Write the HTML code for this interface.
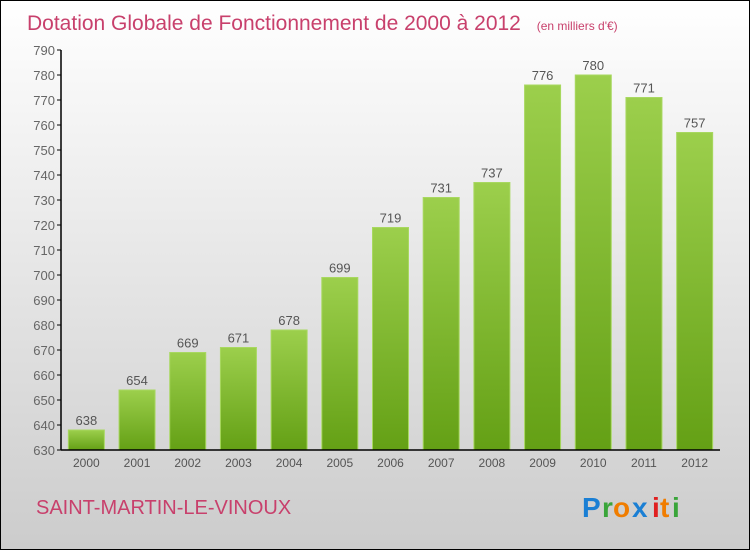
<!DOCTYPE html>
<html><head><meta charset="utf-8"><style>
html,body{margin:0;padding:0}
body{width:750px;height:550px;overflow:hidden;font-family:"Liberation Sans",sans-serif}
</style></head><body>
<svg id="chart" width="750" height="550" xmlns="http://www.w3.org/2000/svg">
<defs>
<linearGradient id="bg" x1="0" y1="0" x2="0" y2="1"><stop offset="0" stop-color="#ffffff"/><stop offset="1" stop-color="#cccccc"/></linearGradient>
<linearGradient id="bar" x1="0" y1="0" x2="0" y2="1"><stop offset="0" stop-color="#9ccf4c"/><stop offset="1" stop-color="#64a015"/></linearGradient>
</defs>
<rect x="0.5" y="0.5" width="749" height="549" fill="url(#bg)" stroke="#000"/>
<text x="27" y="30" font-size="21" fill="#c8406c">Dotation Globale de Fonctionnement de 2000 à 2012 <tspan font-size="12" dx="10">(en milliers d'€)</tspan></text>
<g id="plot"></g>
<text x="36" y="514" font-size="20" fill="#c8406c">SAINT-MARTIN-LE-VINOUX</text>
<g font-size="28" font-weight="bold" font-family="'Liberation Sans',sans-serif">
<text x="582" y="517" fill="#1a7fd4">P</text><text x="602" y="517" fill="#3aa53a">r</text><text x="613" y="517" fill="#f07d00">o</text><text x="632" y="517" fill="#1a7fd4">x</text><text x="652" y="517" fill="#e02020">i</text><text x="660" y="517" fill="#f07d00">t</text><text x="672" y="517" fill="#3aa53a">i</text>
</g>
</svg>
<script>
const years=["2000","2001","2002","2003","2004","2005","2006","2007","2008","2009","2010","2011","2012"];
const values=[638,654,669,671,678,699,719,731,737,776,780,771,757];
const yMin=630, yMax=790, yStep=10;
const ns="http://www.w3.org/2000/svg";
const g=document.getElementById('plot');
const x0=61,x1=720,yTop=50,yBot=450;
const y=v=>yBot-(v-yMin)/(yMax-yMin)*(yBot-yTop);
const step=(x1-x0)/years.length;
const xc=i=>x0+step*(i+0.5);
const bw=36;
function mk(t,a){const e=document.createElementNS(ns,t);for(const k in a)e.setAttribute(k,a[k]);g.appendChild(e);return e;}
for(let v=yMin;v<=yMax;v+=yStep){
 const t=mk('line',{x1:x0-4,x2:x0,y1:y(v),y2:y(v),stroke:'#000'});
 
 
 const l=mk('text',{x:x0-6,y:y(v)+5,'text-anchor':'end','font-size':13,fill:'#666'});
 l.textContent=v;
 
 
}
values.forEach((v,i)=>{
 const b=mk('rect',{x:xc(i)-bw/2,y:y(v),width:bw,height:yBot-y(v),fill:'url(#bar)',stroke:'#a8d860','stroke-width':1});
 
 
 const t=mk('text',{x:xc(i),y:y(v)-5,'text-anchor':'middle','font-size':13,fill:'#555'});
 t.textContent=v;
 
 
 const xl=mk('text',{x:xc(i),y:yBot+17,'text-anchor':'middle','font-size':12,fill:'#555'});
 xl.textContent=years[i];
 
 
});
const ay=mk('line',{x1:x0,x2:x0,y1:yTop,y2:yBot,stroke:'#000','stroke-width':1.5});


const ax=mk('line',{x1:x0,x2:x1,y1:yBot,y2:yBot,stroke:'#000','stroke-width':1.5});


</script>
</body></html>
